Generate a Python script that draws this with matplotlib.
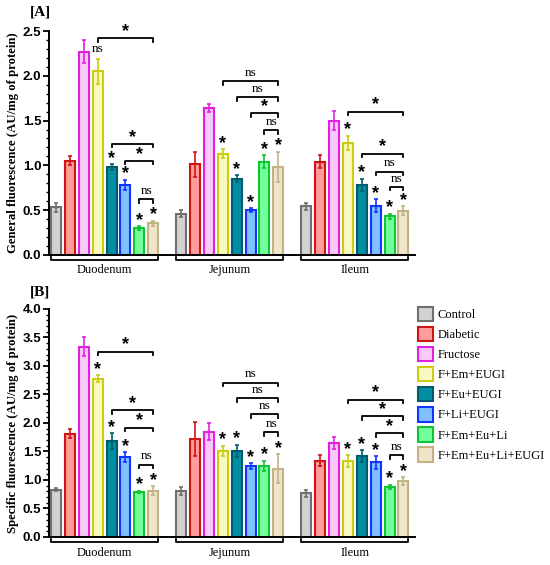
import matplotlib
matplotlib.use("Agg")
import matplotlib.pyplot as plt
from matplotlib.patches import Patch
from matplotlib.ticker import MultipleLocator, AutoMinorLocator
import numpy as np

groups = ["Control", "Diabetic", "Fructose", "F+Em+EUGI", "F+Eu+EUGI",
          "F+Li+EUGI", "F+Em+Eu+Li", "F+Em+Eu+Li+EUGI"]
segments = ["Duodenum", "Jejunum", "Ileum"]

face_colors = ["#d2d2d2", "#ff9c9c", "#f9c9f9", "#f9f9c2", "#008ea2",
               "#80c0ff", "#72ff9c", "#efe5c9"]
edge_colors = ["#707070", "#d01414", "#e022e0", "#cccc10", "#005c6c",
               "#1234ff", "#12c432", "#c2b284"]

# panel A - general fluorescence
gen_mean = [[0.53, 1.05, 2.27, 2.05, 0.98, 0.78, 0.30, 0.35],
            [0.46, 1.01, 1.64, 1.13, 0.85, 0.50, 1.04, 0.98],
            [0.54, 1.04, 1.50, 1.25, 0.78, 0.55, 0.43, 0.49]]
gen_err = [[0.05, 0.05, 0.13, 0.14, 0.03, 0.06, 0.02, 0.03],
           [0.04, 0.14, 0.04, 0.05, 0.04, 0.02, 0.07, 0.17],
           [0.04, 0.07, 0.11, 0.08, 0.07, 0.07, 0.03, 0.05]]
gen_marks = [["", "", "", "ns", "*", "*", "*", "*"],
             ["", "", "", "*", "*", "*", "*", "*"],
             ["", "", "", "*", "*", "*", "*", "*"]]
gen_brackets = [[(3, 2.42, "*"), (4, 1.24, "*"), (5, 1.05, "*"), (6, 0.62, "ns")],
                [(3, 1.94, "ns"), (4, 1.76, "ns"), (5, 1.58, "*"), (6, 1.39, "ns")],
                [(3, 1.60, "*"), (4, 1.13, "*"), (5, 0.93, "ns"), (6, 0.76, "ns")]]

# panel B - specific fluorescence
spe_mean = [[0.83, 1.81, 3.34, 2.78, 1.68, 1.40, 0.79, 0.81],
            [0.81, 1.72, 1.85, 1.51, 1.51, 1.25, 1.25, 1.20],
            [0.77, 1.34, 1.65, 1.33, 1.42, 1.31, 0.88, 0.98]]
spe_err = [[0.03, 0.08, 0.16, 0.06, 0.14, 0.09, 0.02, 0.08],
           [0.07, 0.30, 0.15, 0.09, 0.11, 0.05, 0.09, 0.25],
           [0.06, 0.09, 0.10, 0.10, 0.10, 0.11, 0.04, 0.07]]
spe_marks = [["", "", "", "*", "*", "*", "*", "*"],
             ["", "", "", "*", "*", "*", "*", "*"],
             ["", "", "", "*", "*", "*", "*", "*"]]
spe_brackets = [[(3, 3.25, "*"), (4, 2.23, "*"), (5, 1.92, "*"), (6, 1.27, "ns")],
                [(3, 2.71, "ns"), (4, 2.44, "ns"), (5, 2.16, "ns"), (6, 1.84, "ns")],
                [(3, 2.41, "*"), (4, 2.12, "*"), (5, 1.82, "*"), (6, 1.44, "ns")]]

SERIF = "Liberation Serif"
SANS = "Liberation Sans"
width = 0.72
gap = 9


def draw_panel(ax, means, errs, marks, brackets, ymax, ylabel):
    yr = ymax
    for g in range(3):
        x0 = g * gap
        for i in range(8):
            x = x0 + i
            ax.bar(x, means[g][i], width=width, color=face_colors[i],
                   edgecolor=edge_colors[i], linewidth=1.5, zorder=2)
            ax.errorbar(x, means[g][i], yerr=errs[g][i], color=edge_colors[i],
                        capsize=1.5, elinewidth=1.2, capthick=1.2, zorder=3)
            m = marks[g][i]
            if m:
                top = means[g][i] + errs[g][i]
                if m == "ns":
                    ax.text(x, top + 0.015 * yr, m, ha="center", va="bottom",
                            fontsize=9.5, family=SERIF)
                else:
                    ax.text(x, top - 0.012 * yr, m, ha="center", va="bottom",
                            fontsize=13, fontweight="bold", family=SANS)
        for start, y, lab in brackets[g]:
            xa, xb = x0 + start, x0 + 7
            t = 0.016 * yr
            ax.plot([xa, xa, xb, xb], [y - t, y, y, y - t], color="black",
                    lw=1.3, zorder=4)
            if lab == "ns":
                ax.text((xa + xb) / 2, y + 0.01 * yr, lab, ha="center",
                        va="bottom", fontsize=9.5, family=SERIF)
            else:
                ax.text((xa + xb) / 2, y - 0.008 * yr, lab, ha="center",
                        va="bottom", fontsize=13, fontweight="bold", family=SANS)
        # segment bracket under the axis
        tr = ax.get_xaxis_transform()
        xa, xb = x0 - width / 2, x0 + 7 + width / 2
        ax.plot([xa, xa, xb, xb], [-0.008, -0.022, -0.022, -0.008],
                color="black", lw=1.3, transform=tr, clip_on=False)
        ax.text((xa + xb) / 2, -0.042, segments[g], transform=tr,
                ha="center", va="top", fontsize=9, family=SERIF)

    ax.set_xlim(-0.5, 25.85)
    ax.set_ylim(0, ymax)
    ax.yaxis.set_major_locator(MultipleLocator(0.5))
    ax.yaxis.set_minor_locator(AutoMinorLocator(5))
    ax.set_yticks(np.arange(0, ymax + 0.01, 0.5))
    ax.set_yticklabels([f"{v:.1f}" for v in np.arange(0, ymax + 0.01, 0.5)],
                       fontsize=9.5, fontweight="bold", family=SANS)
    ax.set_xticks([])
    ax.spines["top"].set_visible(False)
    ax.spines["right"].set_visible(False)
    ax.spines["left"].set_linewidth(1.4)
    ax.spines["bottom"].set_linewidth(1.4)
    ax.tick_params(axis="y", which="major", length=4, width=1.3, pad=1.5)
    ax.tick_params(axis="y", which="minor", length=2.5, width=1.0)
    ax.set_ylabel(ylabel, fontsize=9.2, fontweight="bold", family=SERIF,
                  labelpad=3)


fig = plt.figure(figsize=(5.5, 5.65), dpi=100)
ax1 = fig.add_axes([0.089, 0.549, 0.666, 0.396])
ax2 = fig.add_axes([0.089, 0.0496, 0.666, 0.4035])

draw_panel(ax1, gen_mean, gen_err, gen_marks, gen_brackets, 2.5,
           "General fluorescence (AU/mg of protein)")
draw_panel(ax2, spe_mean, spe_err, spe_marks, spe_brackets, 4.0,
           "Specific fluorescence (AU/mg of protein)")

fig.text(0.055, 0.978, "[A]", fontsize=11, fontweight="bold", family=SERIF,
         ha="left", va="center")
fig.text(0.055, 0.483, "[B]", fontsize=11, fontweight="bold", family=SERIF,
         ha="left", va="center")

handles = [Patch(facecolor=face_colors[i], edgecolor=edge_colors[i],
                 linewidth=1.5, label=groups[i]) for i in range(8)]
fig.legend(handles=handles, loc="upper left", bbox_to_anchor=(0.76, 0.457),
           frameon=False, prop={"family": SERIF, "size": 9},
           handlelength=1.2, handleheight=1.4, handletextpad=0.4,
           labelspacing=0.45, borderaxespad=0, borderpad=0)

fig.savefig("out.png", dpi=100)
